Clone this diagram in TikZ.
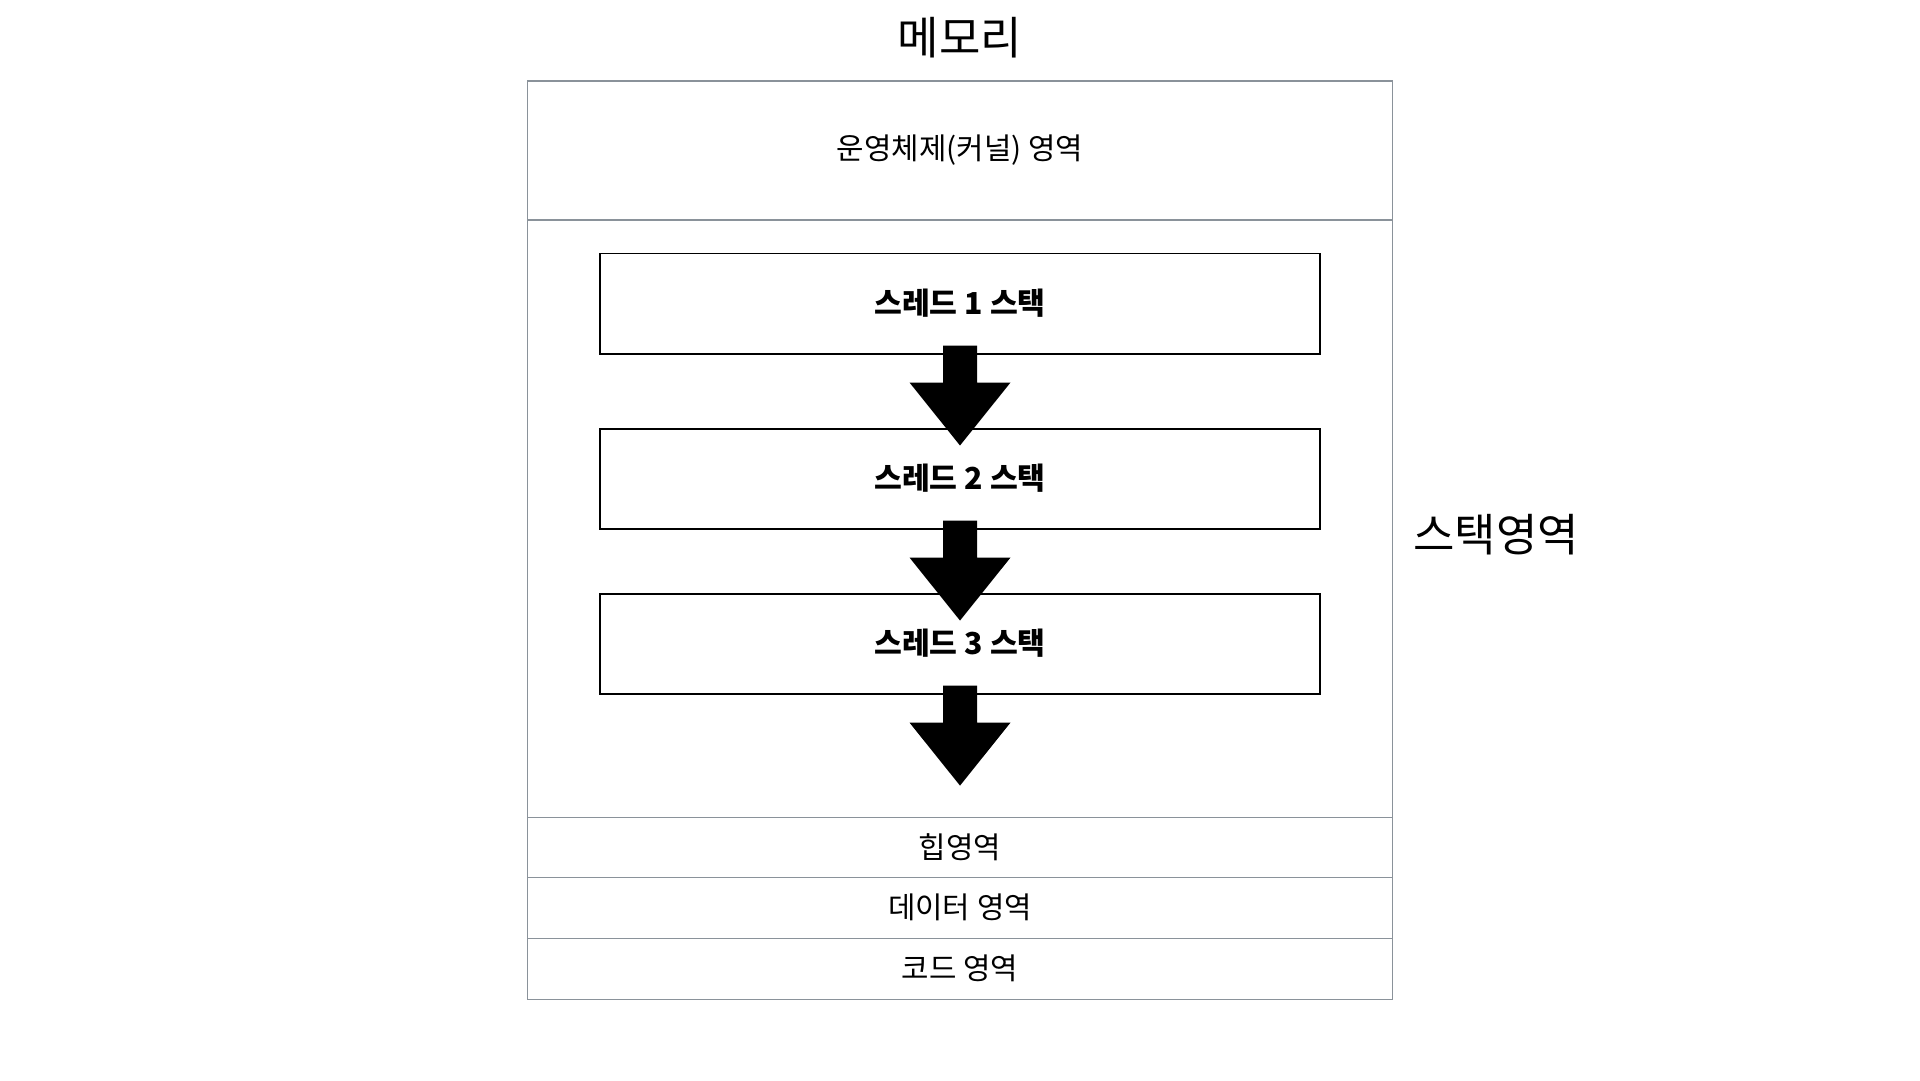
\documentclass[tikz,border=0pt]{standalone}
\usepackage{fontspec}
\setmainfont{Noto Sans CJK KR}
\usetikzlibrary{positioning,calc}

\definecolor{areagray}{HTML}{8A929A}

\tikzset{
	area/.style={draw=areagray, line width=0.8pt, minimum width=21.6cm, outer sep=0pt, inner sep=0pt, font=\fontsize{21.2}{26}\selectfont},
	threadbox/.style={draw=black, line width=1.4pt, minimum width=17.975cm, minimum height=2.5cm, outer sep=0pt, font=\fontsize{21.5}{26}\selectfont\bfseries},
	biglabel/.style={inner sep=0pt, font=\fontsize{32}{38}\selectfont},
	pics/pusharrow/.style={code={
		\fill[black] (-17,0) -- (17,0) -- (17,37) -- (50.5,37) -- (0,100) -- (-50.5,37) -- (-17,37) -- cycle;
	}}
}

\begin{document}
\begin{tikzpicture}[x=0.025cm,y=-0.025cm]
	\useasboundingbox (0,0) rectangle (1920,1080);

	\node[biglabel] (title) at (960,38) {메모리};

	% memory areas
	\node[area, minimum height=3.475cm] (os) at (960,150.5) {운영체제(커널) 영역};
	\node[area, minimum height=14.925cm, below=0pt of os] (stack) {};
	\node[area, minimum height=1.5cm, below=0pt of stack] (heap) {힙영역};
	\node[area, minimum height=1.525cm, below=0pt of heap] (data) {데이터 영역};
	\node[area, minimum height=1.525cm, below=0pt of data] (code) {코드 영역};

	\node[biglabel, anchor=west] (stacklabel) at (1413,535) {스택영역};

	% thread stacks
	\node[threadbox] (t1) at (960,303.5) {스레드 1 스택};
	\node[threadbox, below=1.875cm of t1] (t2) {스레드 2 스택};
	\node[threadbox, below=1.625cm of t2] (t3) {스레드 3 스택};

	\pic at ($(t1.south)+(0,-8)$) {pusharrow};
	\pic at ($(t2.south)+(0,-8)$) {pusharrow};
	\pic at ($(t3.south)+(0,-8)$) {pusharrow};
\end{tikzpicture}
\end{document}
